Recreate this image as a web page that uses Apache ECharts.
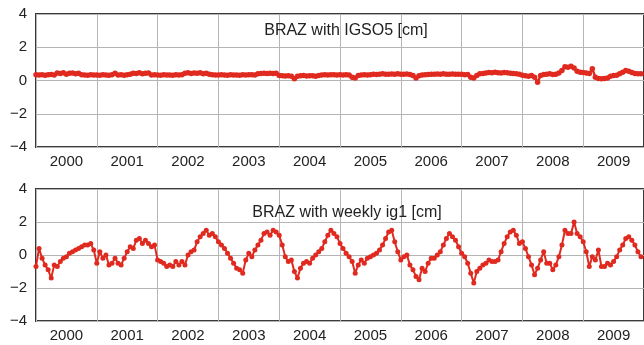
<!DOCTYPE html>
<html>
<head>
<meta charset="utf-8">
<script src="https://cdn.jsdelivr.net/npm/echarts@6/dist/echarts.min.js"></script>
<style>
  html, body { margin: 0; padding: 0; background: #fff; }
  #chart { width: 644px; height: 345px; }
</style>
</head>
<body>
<div id="chart"></div>
<script>
// sampling: first value at 2000.0, one value every 0.05 yr (20 per year)
const startYear = 2000;
const step = 0.05;
const years = [2000, 2001, 2002, 2003, 2004, 2005, 2006, 2007, 2008, 2009];
const yTicks = [-4, -2, 0, 2, 4];

// BRAZ with IGSO5 [cm]
const igso5 = [
  0.35,0.33,0.34,0.32,0.34,0.36,0.33,0.45,0.42,0.46,0.38,0.44,0.45,0.40,0.44,0.35,0.33,0.32,0.34,0.33,
  0.33,0.32,0.34,0.33,0.32,0.35,0.44,0.33,0.34,0.32,0.35,0.38,0.44,0.42,0.46,0.40,0.44,0.45,0.33,0.34,
  0.33,0.32,0.34,0.33,0.33,0.32,0.34,0.33,0.35,0.44,0.46,0.42,0.45,0.43,0.46,0.40,0.44,0.38,0.34,0.33,
  0.33,0.34,0.33,0.32,0.34,0.33,0.33,0.32,0.34,0.33,0.35,0.34,0.33,0.40,0.42,0.43,0.42,0.44,0.42,0.43,
  0.30,0.28,0.27,0.29,0.26,0.10,0.25,0.28,0.30,0.27,0.29,0.28,0.26,0.30,0.33,0.34,0.33,0.35,0.34,0.33,
  0.34,0.33,0.35,0.33,0.20,0.15,0.30,0.33,0.34,0.33,0.35,0.38,0.36,0.38,0.40,0.38,0.37,0.39,0.38,0.40,
  0.38,0.37,0.39,0.36,0.30,0.15,0.28,0.33,0.35,0.36,0.38,0.37,0.39,0.38,0.40,0.37,0.38,0.39,0.37,0.38,
  0.37,0.35,0.36,0.20,0.15,0.30,0.40,0.42,0.45,0.48,0.46,0.50,0.47,0.45,0.48,0.46,0.44,0.42,0.40,0.38,
  0.32,0.28,0.26,0.30,0.20,-0.10,0.30,0.36,0.38,0.40,0.36,0.38,0.45,0.60,0.82,0.80,0.85,0.75,0.55,0.50,
  0.48,0.45,0.42,0.70,0.20,0.12,0.10,0.12,0.15,0.25,0.30,0.32,0.40,0.50,0.60,0.55,0.48,0.42,0.40,0.40
];

// BRAZ with weekly ig1 [cm]
const ig1 = [
  -0.7,0.4,-0.2,-0.6,-0.9,-1.4,-0.6,-0.7,-0.4,-0.2,-0.1,0.1,0.2,0.3,0.4,0.5,0.6,0.6,0.7,0.3,
  -0.5,0.2,-0.2,0.0,-0.6,-0.5,-0.2,-0.5,-0.6,-0.2,0.2,0.5,0.4,0.9,1.0,0.7,0.9,0.7,0.5,0.6,
  -0.3,-0.4,-0.5,-0.7,-0.6,-0.7,-0.4,-0.6,-0.4,-0.6,0.0,0.2,0.3,0.8,1.1,1.3,1.5,1.2,1.3,1.1,
  0.8,0.6,0.4,0.1,-0.2,-0.5,-0.8,-0.9,-1.1,-0.3,0.1,-0.1,0.3,0.6,0.9,1.3,1.4,1.2,1.5,1.4,
  1.2,0.6,-0.1,-0.4,-0.3,-1.0,-1.4,-0.8,-0.5,-0.4,-0.5,-0.2,0.0,0.2,0.4,0.8,1.2,1.5,1.3,1.1,
  0.7,0.4,0.1,-0.1,-0.4,-1.1,-0.6,-0.3,-0.5,-0.2,-0.1,0.0,0.1,0.3,0.6,1.0,1.4,1.5,0.8,0.2,
  -0.3,-0.1,0.0,-0.6,-0.9,-1.3,-1.5,-0.8,-1.0,-0.5,-0.2,-0.2,0.0,0.2,0.6,1.0,1.3,1.1,0.9,0.5,
  0.1,-0.1,-0.5,-1.1,-1.7,-1.0,-0.8,-0.6,-0.5,-0.3,-0.4,-0.4,-0.3,0.2,0.7,1.1,1.4,1.5,1.2,0.7,
  0.8,0.4,-0.1,-0.6,-1.2,-0.8,-0.3,0.2,-0.5,-0.5,-0.9,-0.6,-0.1,0.6,1.5,1.3,1.3,2.0,1.3,1.1,
  0.8,0.2,-0.7,-0.1,-0.3,0.3,-0.7,-0.7,-0.5,-0.6,-0.4,-0.1,0.3,0.6,1.0,1.1,0.9,0.6,0.2,-0.1
];

const red = '#e02a1f';
const font = 'Liberation Sans, Arial, Helvetica, sans-serif';

const toPairs = (vals) => vals.map((v, i) => [startYear + i * step, v]);

const xAxisFor = (idx) => ({
  type: 'value',
  gridIndex: idx,
  min: 2000,
  max: 2010,
  interval: 1,
  axisLine: { show: false },
  axisTick: { show: false },
  splitLine: { show: true, lineStyle: { color: '#b5b5b5', width: 1 } },
  axisLabel: {
    customValues: years.map(y => y + 0.5),
    formatter: v => String(Math.floor(v)),
    color: '#222',
    fontSize: 15,
    fontFamily: font,
    margin: 7
  }
});

const yAxisFor = (idx) => ({
  type: 'value',
  gridIndex: idx,
  min: yTicks[0],
  max: yTicks[yTicks.length - 1],
  interval: 2,
  axisLine: { show: false },
  axisTick: { show: false },
  splitLine: { show: true, lineStyle: { color: '#b5b5b5', width: 1 } },
  axisLabel: {
    formatter: v => String(v).replace('-', '\u2212'),
    color: '#222',
    fontSize: 15,
    fontFamily: font,
    margin: 9
  }
});

const seriesFor = (idx, vals, size, width) => ({
  type: 'line',
  xAxisIndex: idx,
  yAxisIndex: idx,
  data: toPairs(vals),
  symbol: 'circle',
  symbolSize: size,
  showAllSymbol: true,
  lineStyle: { color: red, width: width },
  itemStyle: { color: red },
  silent: true
});

const chart = echarts.init(document.getElementById('chart'), null, { renderer: 'canvas' });
chart.setOption({
  animation: false,
  backgroundColor: '#fff',
  title: [
    { text: 'BRAZ with IGSO5 [cm]', left: 341, top: 18, textAlign: 'center',
      textStyle: { fontSize: 16, fontWeight: 'normal', color: '#222', fontFamily: font } },
    { text: 'BRAZ with weekly ig1 [cm]', left: 342, top: 200, textAlign: 'center',
      textStyle: { fontSize: 16, fontWeight: 'normal', color: '#222', fontFamily: font } }
  ],
  grid: [
    { left: 36, top: 14, width: 612, height: 133, show: true, borderColor: '#3a3a3a', borderWidth: 2 },
    { left: 36, top: 189, width: 612, height: 132, show: true, borderColor: '#3a3a3a', borderWidth: 2 }
  ],
  xAxis: [xAxisFor(0), xAxisFor(1)],
  yAxis: [yAxisFor(0), yAxisFor(1)],
  series: [seriesFor(0, igso5, 5.5, 2.5), seriesFor(1, ig1, 5, 2)]
});
</script>
</body>
</html>
